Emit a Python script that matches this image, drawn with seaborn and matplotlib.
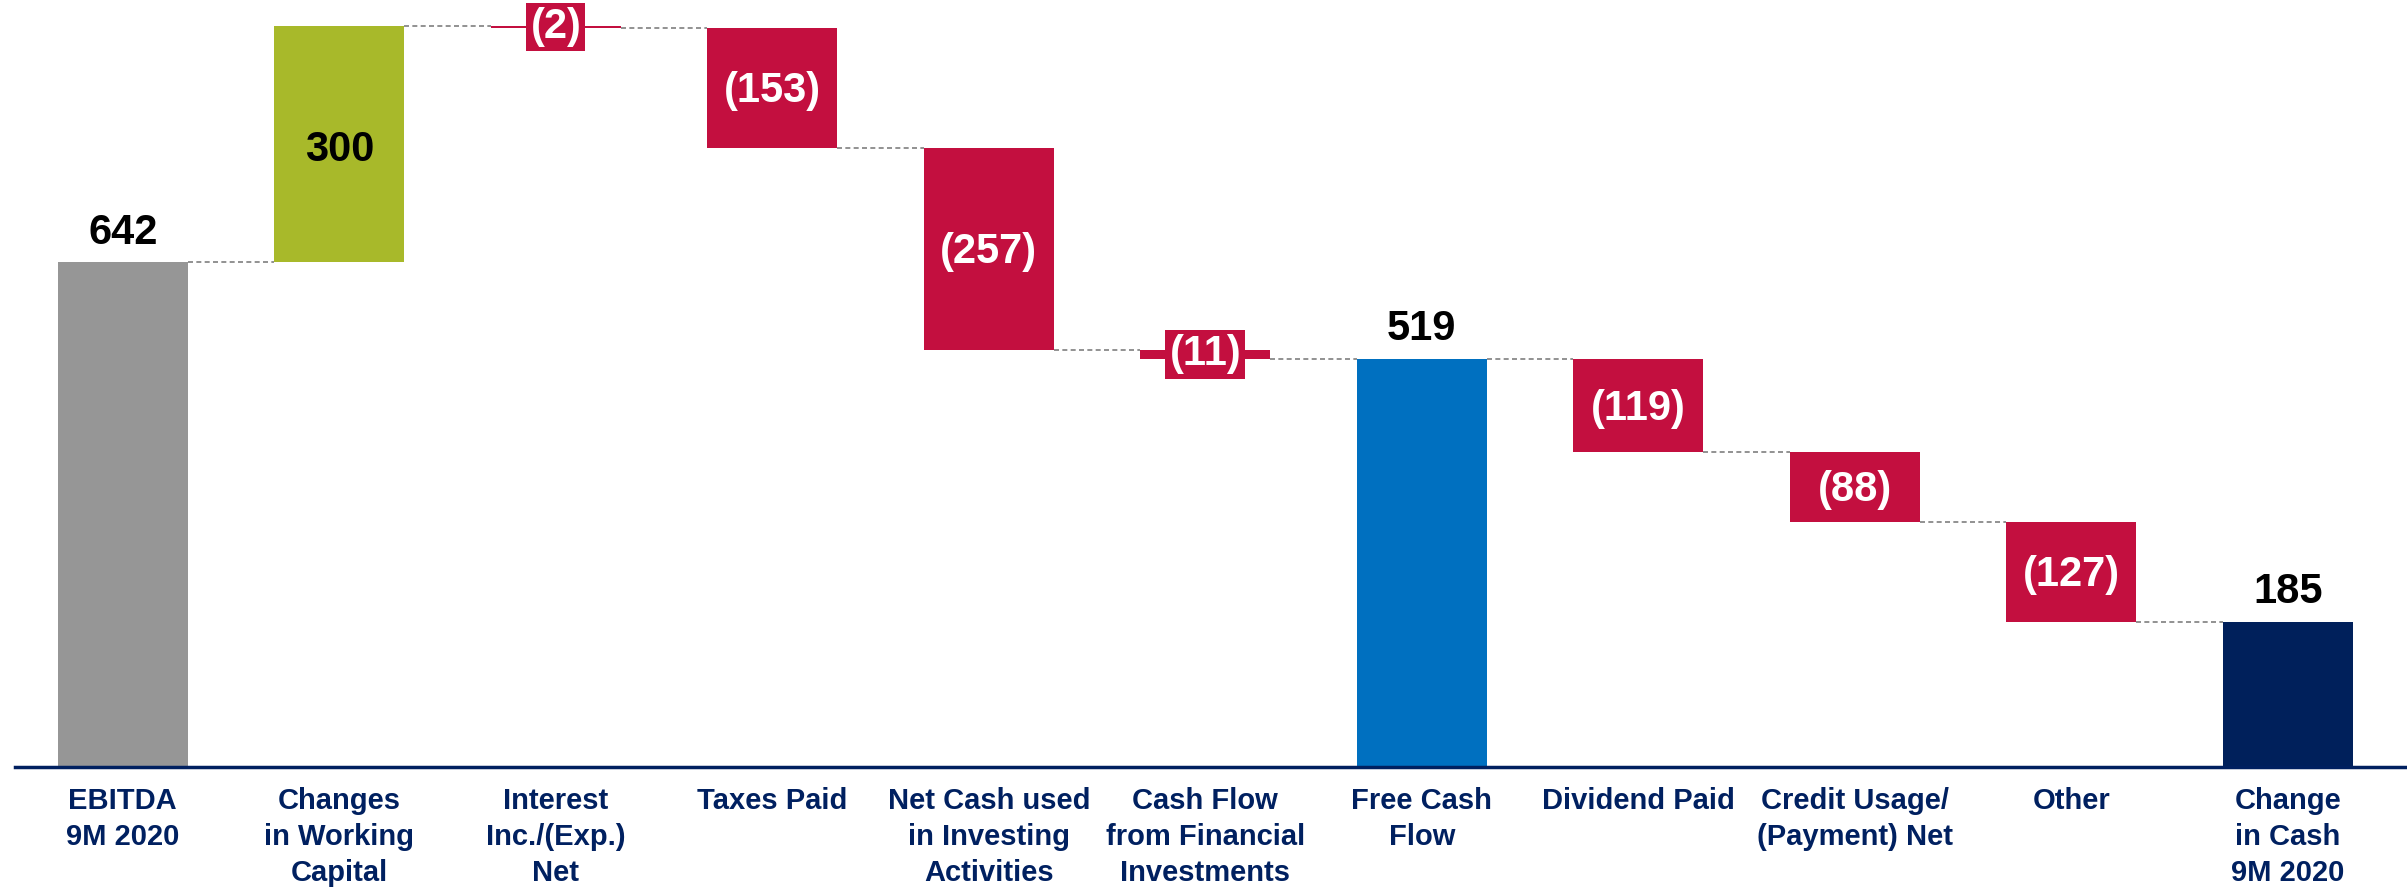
import numpy as np
import pandas as pd
import seaborn as sns
import matplotlib
matplotlib.use("Agg")
import matplotlib.pyplot as plt

categories = ["EBITDA\n9M 2020", "Changes\nin Working\nCapital",
              "Interest\nInc./(Exp.)\nNet", "Taxes Paid",
              "Net Cash used\nin Investing\nActivities",
              "Cash Flow\nfrom Financial\nInvestments", "Free Cash\nFlow",
              "Dividend Paid", "Credit Usage/\n(Payment) Net", "Other",
              "Change\nin Cash\n9M 2020"]
values = [642, 300, -2, -153, -257, -11, 519, -119, -88, -127, 185]
kinds = ["start", "pos", "neg", "neg", "neg", "neg", "total",
         "neg", "neg", "neg", "end"]

colors = {"start": "#969696", "pos": "#A8B92A", "neg": "#C30F3F",
          "total": "#0070C0", "end": "#00205B"}
navy = "#002060"

sns.set_style("white")
plt.rcParams['font.family'] = ['Liberation Sans', 'DejaVu Sans']
plt.rcParams['font.weight'] = 'bold'

# running levels of the waterfall
bottoms, heights, ends = [], [], []
level = 0
for v, k in zip(values, kinds):
    if k in ("start", "total", "end"):
        bottoms.append(0)
        heights.append(v)
        level = v
    else:
        new = level + v
        bottoms.append(min(level, new))
        heights.append(abs(v))
        level = new
    ends.append(level)

df = pd.DataFrame({"cat": categories, "height": heights, "bottom": bottoms,
                   "value": values, "kind": kinds, "end": ends})

fig = plt.figure(figsize=(24.07, 8.90), dpi=100)
ax = fig.add_axes([0.0064, 0.138, 0.9936, 0.862])

sns.barplot(data=df, x="cat", y="height", bottom=df["bottom"].values,
            color="#969696", width=0.6, saturation=1, ax=ax)
for patch, k in zip(ax.patches, df["kind"]):
    patch.set_facecolor(colors[k])
    patch.set_edgecolor("none")

w = 0.6
# dashed connectors
for i in range(len(df) - 1):
    y = df["end"][i]
    ax.plot([i + w / 2, i + 1 - w / 2], [y, y], ls=(0, (3, 2)),
            color="#7f7f7f", lw=1.2, zorder=0)

# value labels
for i, row in df.iterrows():
    v = row["value"]
    if row["kind"] in ("start", "total", "end"):
        ax.text(i, row["height"] + 12, f"{v}", ha="center", va="bottom",
                fontsize=30, fontweight="bold", color="black")
    elif v > 0:
        ax.text(i, row["bottom"] + row["height"] / 2 - 8, f"{v}",
                ha="center", va="center", fontsize=30, fontweight="bold",
                color="black")
    else:
        mid = row["bottom"] + row["height"] / 2
        kw = {}
        if row["height"] < 30:
            kw["bbox"] = dict(boxstyle="square,pad=0.1", fc=colors["neg"],
                              ec="none")
        else:
            mid -= 4
        ax.text(i, mid, f"({-v})", ha="center", va="center", fontsize=30,
                fontweight="bold", color="white", **kw)

ax.set_xlim(-0.496, 10.55)
ax.set_ylim(0, 975)
ax.set_xlabel("")
ax.set_ylabel("")
ax.set_yticks([])
for s in ("top", "left", "right"):
    ax.spines[s].set_visible(False)
ax.spines["bottom"].set_color(navy)
ax.spines["bottom"].set_linewidth(2.5)
ax.tick_params(axis="x", length=0, pad=14, labelsize=21, labelcolor=navy)
for t in ax.get_xticklabels():
    t.set_fontweight("bold")
    t.set_multialignment("center")
    t.set_linespacing(1.38)

fig.savefig("out.png", dpi=100)
